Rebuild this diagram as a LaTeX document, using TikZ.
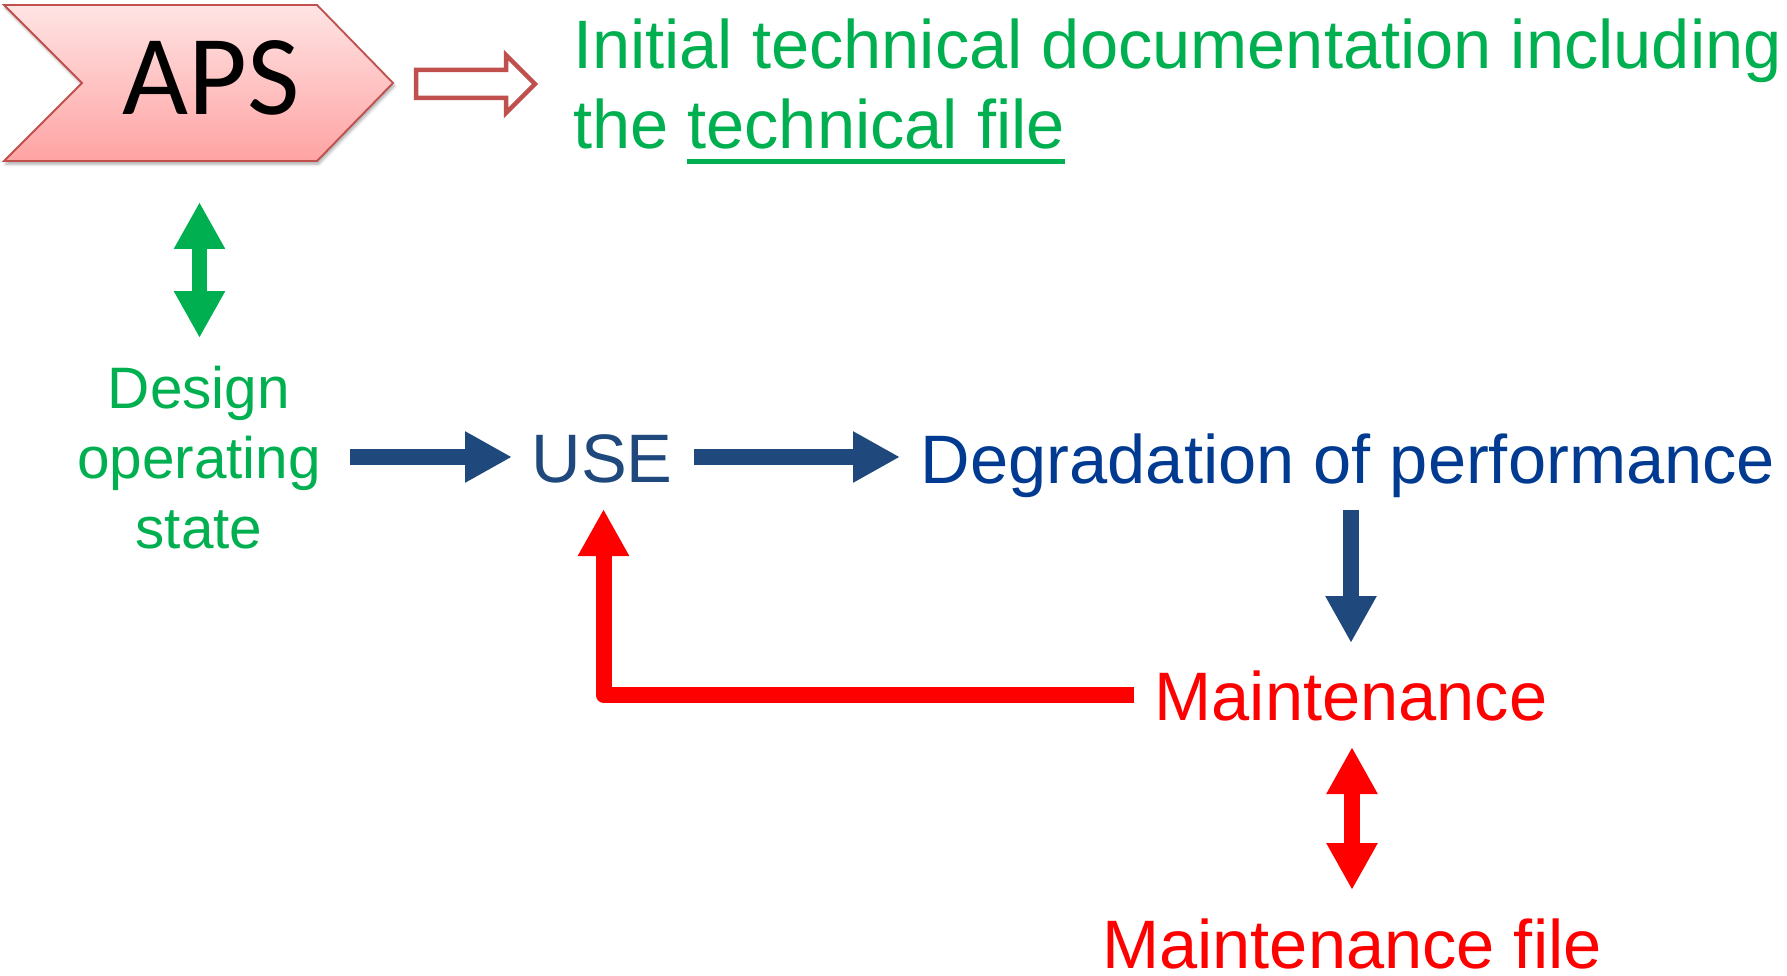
\documentclass[tikz,border=0pt]{standalone}
\usepackage{fontspec}
\setmainfont{Liberation Sans}
\newfontfamily\calibrifont{Carlito}
\usetikzlibrary{arrows.meta,shadows.blur}

\definecolor{docgreen}{HTML}{00B050}
\definecolor{usenavy}{HTML}{1F497D}
\definecolor{degblue}{RGB}{0,58,145}
\definecolor{brick}{HTML}{C0504D}
\definecolor{pinktop}{RGB}{255,228,228}
\definecolor{pinkbot}{RGB}{255,163,163}

% thick underline for a word group
\newcommand\thickul[1]{\vtop{\hbox{#1}\kern 9.5pt\hrule height 4.5pt}}

\tikzset{
  lbl/.style={inner sep=0pt, outer sep=0pt},
  bigtext/.style={lbl, font=\fontsize{68.6}{80}\selectfont},
  smalltext/.style={lbl, font=\fontsize{58.5}{70}\selectfont, text=docgreen},
  blockarrow/.style={line width=16pt, line cap=butt,
    -{Triangle[length=47pt,width=48pt]}},
  twoway/.style={line width=16pt, line cap=butt,
    {Triangle[length=47pt,width=48pt]}-{Triangle[length=47pt,width=48pt]}},
}

\begin{document}
\begin{tikzpicture}[x=1pt,y=-1pt]
\useasboundingbox (0,0) rectangle (1787,976);

% APS chevron
\path[draw=brick, line width=1.8pt, top color=pinktop, bottom color=pinkbot,
      blur shadow={shadow xshift=1.5pt, shadow yshift=-3pt, shadow blur radius=3pt, shadow opacity=35}]
  (4,5) -- (317,5) -- (393,83) -- (317,161) -- (4,161) -- (82,83) -- cycle;
\node[lbl, anchor=base, font=\calibrifont\fontsize{114}{120}\selectfont] (aps) at (211,115) {APS};

% hollow arrow towards the documentation text
\draw[brick, line width=4.5pt, fill=white, line join=miter]
  (416,70) -- (506,70) -- (506,55) -- (535,84) -- (506,113) -- (506,98) -- (416,98) -- cycle;

% documentation text
\node[bigtext, text=docgreen, anchor=base west] (doc1) at (573,69)
  {Initial technical documentation including};
\node[bigtext, text=docgreen, anchor=base west] (doc2) at (573,149)
  {the \thickul{technical file}};

% design operating state
\node[smalltext, anchor=base] (des1) at (199,408) {Design};
\node[smalltext, anchor=base] (des2) at (199,478) {operating};
\node[smalltext, anchor=base] (des3) at (199,548) {state};

% main line
\node[bigtext, text=usenavy, anchor=base] (use) at (602,482) {USE};
\node[bigtext, text=degblue, anchor=base] (deg) at (1348,483) {Degradation of performance};
\node[bigtext, text=red, anchor=base] (mnt) at (1351,720) {Maintenance};
\node[bigtext, text=red, anchor=base] (mfile) at (1352,968) {Maintenance file};

% connector end points
\coordinate (g1) at (199.5,202);
\coordinate (g2) at (199.5,338);
\coordinate (b1s) at (350,457);
\coordinate (b1e) at (512,457);
\coordinate (b2s) at (694,457);
\coordinate (b2e) at (900,457);
\coordinate (b3s) at (1351,510);
\coordinate (b3e) at (1351,643);
\coordinate (r1s) at (1134,695);
\coordinate (r1c) at (603.5,695);
\coordinate (r1e) at (603.5,509);
\coordinate (r2s) at (1352,747);
\coordinate (r2e) at (1352,890);

% connectors
\draw[twoway, docgreen, line width=15pt] (g1) -- (g2);
\draw[blockarrow, usenavy] (b1s) -- (b1e);
\draw[blockarrow, usenavy] (b2s) -- (b2e);
\draw[blockarrow, usenavy] (b3s) -- (b3e);
\draw[blockarrow, red, line join=round] (r1s) -- (r1c) -- (r1e);
\draw[twoway, red] (r2s) -- (r2e);
\end{tikzpicture}
\end{document}
